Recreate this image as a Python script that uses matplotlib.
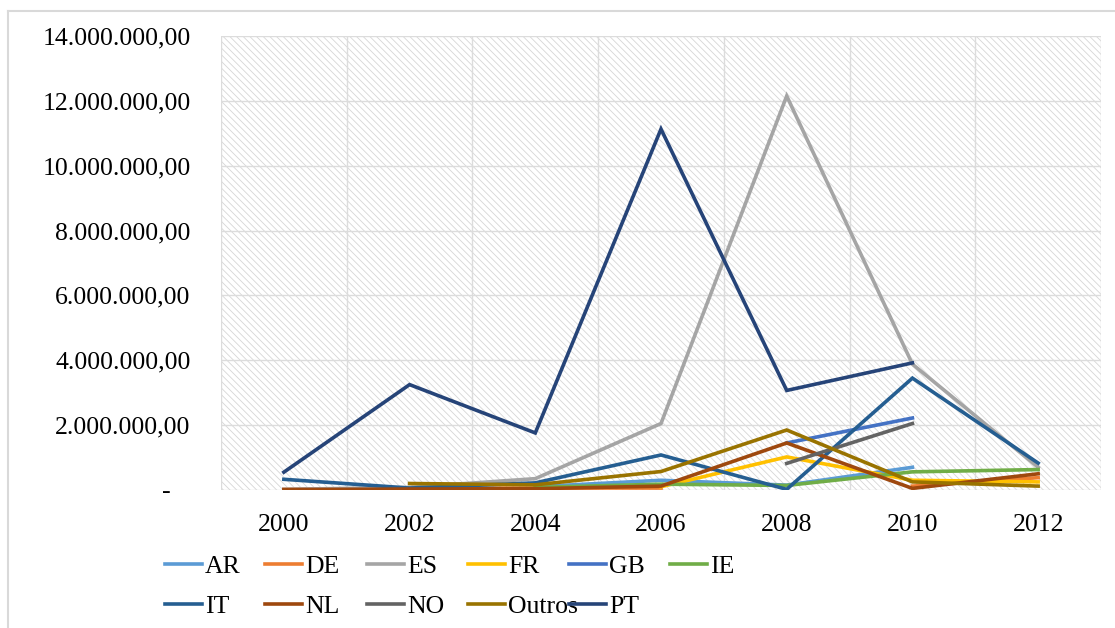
import numpy as np
import matplotlib
matplotlib.use("Agg")
import matplotlib.pyplot as plt
from matplotlib.patches import Rectangle
from matplotlib.lines import Line2D
from matplotlib.ticker import FuncFormatter

plt.rcParams['font.family'] = ['Liberation Serif', 'DejaVu Serif']
plt.rcParams['hatch.linewidth'] = 0.6

nan = np.nan
anos = [2000, 2002, 2004, 2006, 2008, 2010, 2012]

# valores em milhoes
AR = [nan, nan, 0.10, 0.30, 0.15, 0.70, nan]
DE = [0.02, 0.05, 0.06, 0.06, nan, 0.12, 0.38]
ES = [0.02, 0.08, 0.35, 2.05, 12.15, 3.88, 0.70]
FR = [nan, nan, nan, 0.10, 1.02, 0.30, 0.25]
GB = [nan, nan, nan, nan, 1.45, 2.22, nan]
IE = [nan, nan, 0.08, 0.18, 0.14, 0.56, 0.63]
IT = [0.33, 0.06, 0.22, 1.08, 0.02, 3.45, 0.83]
NL = [0.01, 0.03, 0.04, 0.12, 1.45, 0.05, 0.50]
NO = [nan, nan, nan, nan, 0.82, 2.05, nan]
Outros = [nan, 0.20, 0.16, 0.57, 1.85, 0.25, 0.12]
PT = [0.55, 3.25, 1.76, 11.13, 3.07, 3.92, nan]

series = [('AR', AR, '#5b9bd5'), ('DE', DE, '#ed7d31'), ('ES', ES, '#a5a5a5'),
          ('FR', FR, '#ffc000'), ('GB', GB, '#4472c4'), ('IE', IE, '#70ad47'),
          ('IT', IT, '#255e91'), ('NL', NL, '#9e480e'), ('NO', NO, '#636363'),
          ('Outros', Outros, '#997300'), ('PT', PT, '#264478')]

fig = plt.figure(figsize=(11.15, 6.28), dpi=100)
ax = fig.add_axes([221/1115, 1-490/628, 880/1115, 454/628])

# fundo com hachura
ax.add_patch(Rectangle((0, 0), 1, 1, transform=ax.transAxes, facecolor='white',
                       edgecolor='#d6d6d6', hatch='\\\\\\\\\\', linewidth=0, zorder=0))

linhas = {}
for nome, vals, cor in series:
    v = np.array(vals) * 1e6
    ln, = ax.plot(anos, v, color=cor, linewidth=2.6, label=nome, zorder=3,
                  solid_joinstyle='miter')
    linhas[nome] = ln

ax.set_xlim(1999, 2013)
ax.set_ylim(0, 14e6)
ax.set_xticks(range(2000, 2013, 2))
ax.set_xticks(range(1999, 2014), minor=True)
ax.set_yticks(np.arange(0, 14.1e6, 2e6))

def fmt(v, pos):
    if v == 0:
        return '-   '
    s = f"{v:,.2f}"
    return s.replace(',', 'X').replace('.', ',').replace('X', '.')

ax.yaxis.set_major_formatter(FuncFormatter(fmt))
ax.tick_params(axis='both', which='both', length=0, labelsize=18.5, colors='black')
ax.tick_params(axis='y', pad=22)
ax.tick_params(axis='x', pad=17)
ax.grid(True, which='minor', axis='x', color='#dcdcdc', linewidth=1.0)
ax.grid(True, which='major', axis='y', color='#dcdcdc', linewidth=1.0)
ax.set_axisbelow(True)
for s in ax.spines.values():
    s.set_visible(False)

# legenda: 6 colunas com largura fixa
colunas = [['AR', 'IT'], ['DE', 'NL'], ['ES', 'NO'], ['FR', 'Outros'], ['GB', 'PT'], ['IE']]
x_col = [165, 265, 367, 468, 569, 670]
for nomes, xc in zip(colunas, x_col):
    fig.legend([linhas[n] for n in nomes], nomes, loc='upper left',
               bbox_to_anchor=(xc/1115, 1-555/628), frameon=False,
               fontsize=18.5, handlelength=1.45, handletextpad=0.1,
               labelspacing=0.65, borderpad=0, borderaxespad=0)

# moldura do grafico
fig.add_artist(Line2D([8/1115, 8/1115], [0, 1-11/628], color='#d9d9d9', linewidth=1.5))
fig.add_artist(Line2D([8/1115, 1], [1-11/628, 1-11/628], color='#d9d9d9', linewidth=1.5))

fig.savefig('out.png', dpi=100)
